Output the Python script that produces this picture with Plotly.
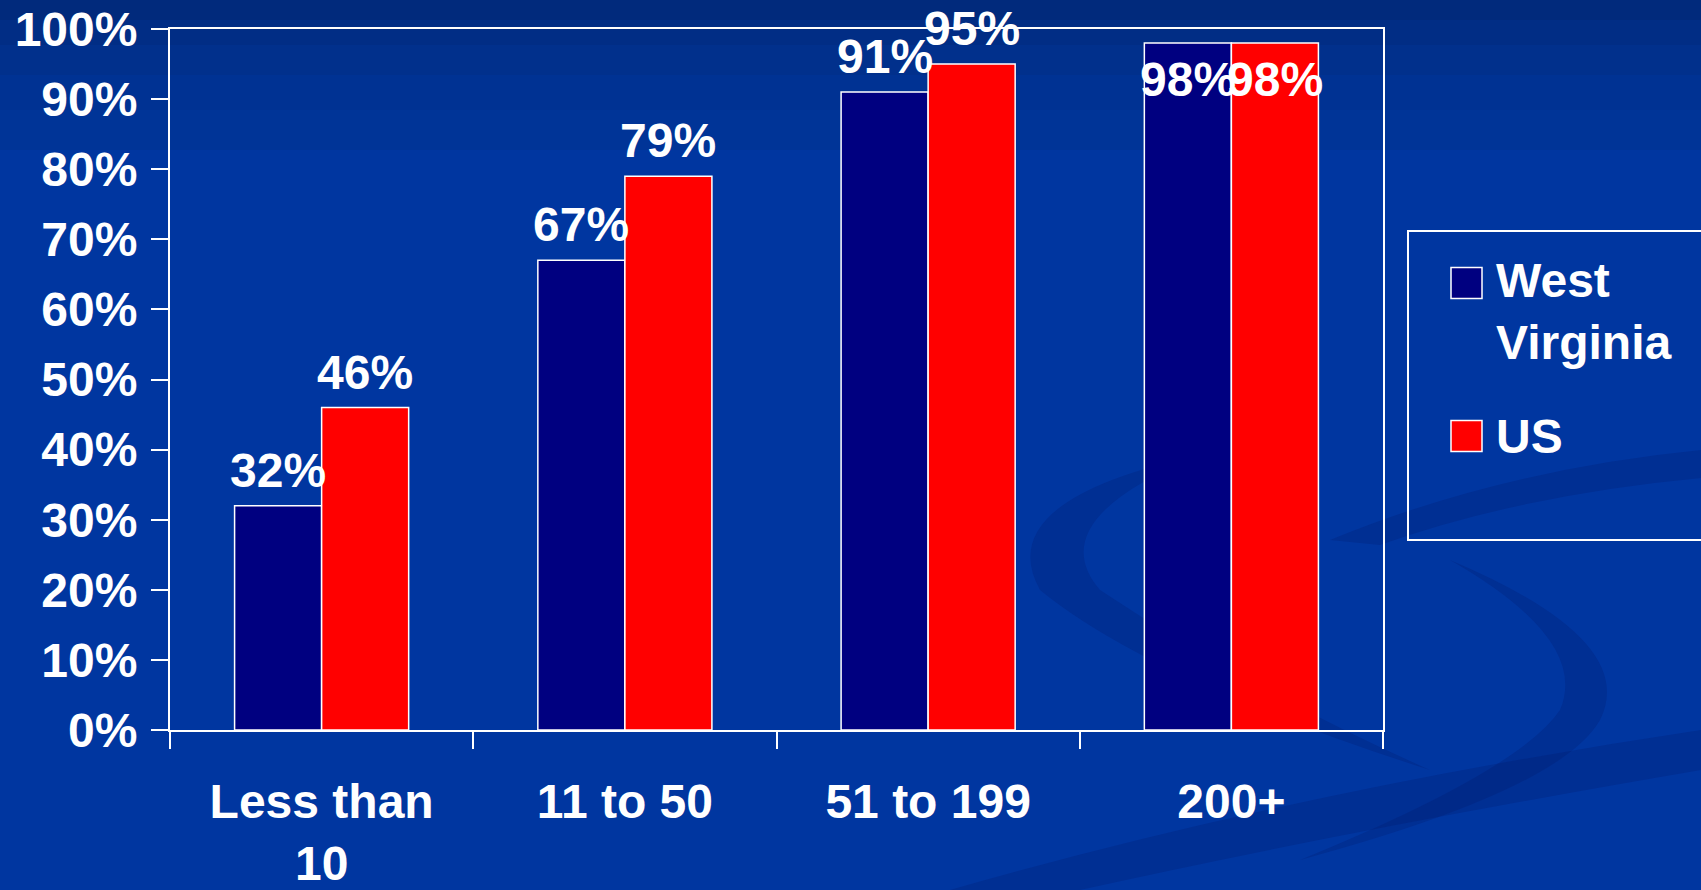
import plotly.graph_objects as go

categories = ["Less than 10", "11 to 50", "51 to 199", "200+"]
tick_labels = ["Less than<br>10", "11 to 50", "51 to 199", "200+"]
series_names = ["West Virginia", "US"]
legend_labels = ["West<br>Virginia", "US"]
wv_values = [32, 67, 91, 98]
us_values = [46, 79, 95, 98]
y_ticks = [0, 10, 20, 30, 40, 50, 60, 70, 80, 90, 100]
y_tick_labels = [f"{v}%" for v in y_ticks]

colors = ["#000080", "#FF0000"]
FONT = "Liberation Sans, Arial, sans-serif"
W, H = 1701, 890
L, R, T, B = 170, 1383, 29, 730
BARGAP = 0.426


def px_x(x):
    return (x - L) / (R - L)


def px_y(y):
    return (B - y) / (B - T)


fig = go.Figure()
all_values = [wv_values, us_values]
for name, vals, col in zip(series_names, all_values, colors):
    fig.add_trace(go.Bar(
        x=categories, y=vals, name=name,
        marker=dict(color=col, line=dict(color="white", width=1.5)),
        showlegend=False,
    ))

# value labels
cat_w = (R - L) / len(categories)
offset = cat_w * (1 - BARGAP) / 4
annotations = []
for si, vals in enumerate(all_values):
    xs = -offset if si == 0 else offset
    for c, v in zip(categories, vals):
        inside = v > 96
        annotations.append(dict(
            x=c, y=v, xref="x", yref="y", text=f"{v}%", showarrow=False,
            xshift=xs, yshift=(-8 if inside else 7),
            yanchor=("top" if inside else "bottom"),
            font=dict(family=FONT, size=48, color="white", weight="bold"),
        ))

# custom legend
shapes = []
shapes.append(dict(type="rect", xref="paper", yref="paper",
                   x0=px_x(1408), x1=px_x(1720), y0=px_y(540), y1=px_y(231),
                   line=dict(color="white", width=2), fillcolor="rgba(0,0,0,0)"))
leg_centers = [283, 436]
text_centers = [311, 436]
for lab, col, yc, tc in zip(legend_labels, colors, leg_centers, text_centers):
    shapes.append(dict(type="rect", xref="paper", yref="paper",
                       x0=px_x(1451), x1=px_x(1482), y0=px_y(yc + 15.5), y1=px_y(yc - 15.5),
                       line=dict(color="white", width=1.5), fillcolor=col))
    annotations.append(dict(
        x=px_x(1494), y=px_y(tc), xref="paper", yref="paper", text=lab,
        showarrow=False, xanchor="left", yanchor="middle", align="left",
        font=dict(family=FONT, size=48, color="white", weight="bold"),
    ))


# background decoration (gradient + swooshes)
def path_px(cmds):
    out = []
    for cmd in cmds:
        if isinstance(cmd, str):
            out.append(cmd)
        else:
            out.append(f"{px_x(cmd[0]):.4f},{px_y(cmd[1]):.4f}")
    return " ".join(out)


bg_shapes = []
bands = [(-5, 20, "#012a7c"), (20, 45, "#012d85"), (45, 75, "#01308c"),
         (75, 110, "#003293"), (110, 150, "#003497")]
for y0, y1, c in bands:
    bg_shapes.append(dict(type="rect", xref="paper", yref="paper", layer="below",
                          x0=px_x(-5), x1=px_x(W + 5), y0=px_y(y1), y1=px_y(y0),
                          line=dict(width=0), fillcolor=c))
swoosh_fill = "rgba(0,25,100,0.22)"
swooshes = [
    ["M", (1200, 455), "Q", (990, 500), (1040, 590), "Q", (1150, 680), (1430, 770),
     "Q", (1250, 690), (1100, 590), "Q", (1040, 520), (1200, 455), "Z"],
    ["M", (950, 890), "Q", (1300, 790), (1701, 730), "L", (1701, 770),
     "Q", (1350, 830), (1080, 890), "Z"],
    ["M", (1330, 540), "Q", (1500, 470), (1701, 450), "L", (1701, 478),
     "Q", (1520, 495), (1380, 545), "Z"],
    ["M", (1450, 560), "Q", (1640, 640), (1600, 720), "Q", (1560, 790), (1300, 860),
     "Q", (1520, 770), (1560, 710), "Q", (1590, 640), (1450, 560), "Z"],
]
for sw in swooshes:
    bg_shapes.append(dict(type="path", xref="paper", yref="paper", layer="below",
                          path=path_px(sw), line=dict(width=0), fillcolor=swoosh_fill))

fig.update_layout(
    template="none",
    width=W, height=H,
    margin=dict(l=L, r=W - R, t=T, b=H - B, autoexpand=False),
    paper_bgcolor="#0036a0",
    plot_bgcolor="rgba(0,0,0,0)",
    barmode="group", bargap=BARGAP, bargroupgap=0,
    showlegend=False,
    shapes=bg_shapes + shapes,
    annotations=annotations,
    font=dict(family=FONT, color="white"),
)
fig.update_xaxes(
    tickvals=categories, ticktext=tick_labels, automargin=False,
    showline=True, linecolor="white", linewidth=2, mirror=True,
    ticks="outside", ticklen=17, tickwidth=1.5, tickcolor="white",
    tickson="boundaries", showgrid=False, zeroline=False,
    tickfont=dict(family=FONT, size=48, color="white", weight="bold"),
    ticklabelstandoff=28,
)
fig.update_yaxes(
    range=[0, 100], tickvals=y_ticks, ticktext=y_tick_labels, automargin=False,
    showline=True, linecolor="white", linewidth=2, mirror=True,
    ticks="outside", ticklen=17, tickwidth=1.5, tickcolor="white",
    showgrid=False, zeroline=False,
    tickfont=dict(family=FONT, size=48, color="white", weight="bold"),
    ticklabelstandoff=4,
)

fig.write_html("out.html")
